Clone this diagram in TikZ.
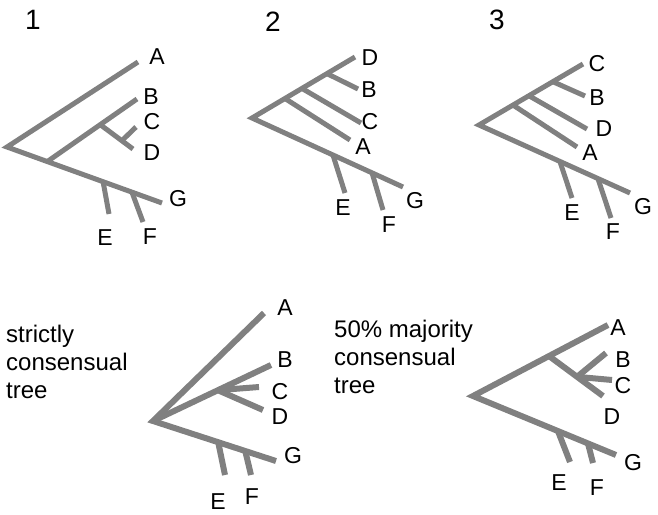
\documentclass[tikz,border=0pt]{standalone}
\usepackage{fontspec}
\setmainfont{Liberation Sans}
\usetikzlibrary{calc}
\definecolor{branch}{RGB}{128,128,128}
\tikzset{
  br/.style={draw=branch, line width=5pt},
  brb/.style={draw=branch, line width=6pt},
  leaf/.style={font=\fontsize{23}{26}\selectfont, inner sep=0pt, anchor=center},
  ttl/.style={font=\fontsize{28}{30}\selectfont, inner sep=0pt, anchor=center},
  caption/.style={font=\fontsize{24}{28}\selectfont, inner sep=0pt, anchor=north west, align=left}
}
\begin{document}
\begin{tikzpicture}[x=1pt,y=-1pt]
\useasboundingbox (0,0) rectangle (658,514);
% titles
\node[ttl] (t1) at (33,20) {1};
\node[ttl] (t2) at (273,22) {2};
\node[ttl] (t3) at (497,20) {3};
% ---------- tree 1
\coordinate (r1) at (7,147);
\coordinate (a1) at (138,62);
\coordinate (g1) at (162,203);
\coordinate (b1) at (137,99);
\coordinate (d1) at (133,149);
\coordinate (c1) at (136,127);
\coordinate (e1) at (109,214);
\coordinate (f1) at (143,222);
\coordinate (n1) at ($(r1)!0.26!(g1)$);
\coordinate (n2) at ($(n1)!0.59!(b1)$);
\coordinate (n3) at ($(n2)!0.66!(d1)$);
\coordinate (ne1) at ($(r1)!0.62!(g1)$);
\coordinate (nf1) at ($(r1)!0.806!(g1)$);
\draw[br] (a1) -- (r1) -- (g1);
\draw[br] (n1) -- (b1);
\draw[br] (n2) -- (d1);
\draw[br] (n3) -- (c1);
\draw[br] (ne1) -- (e1);
\draw[br] (nf1) -- (f1);
\node[leaf] (A1) at (157,57) {A};
\node[leaf] (B1) at (151,97) {B};
\node[leaf] (C1) at (152,122) {C};
\node[leaf] (D1) at (152,153) {D};
\node[leaf] (G1) at (178,199) {G};
\node[leaf] (E1) at (105,238) {E};
\node[leaf] (F1) at (150,237) {F};
% ---------- tree 2
\coordinate (r2) at (252,118);
\coordinate (d2) at (355,57);
\coordinate (g2) at (403,187);
\coordinate (a2) at (350,140);
\coordinate (c2) at (361,123);
\coordinate (b2) at (358,89);
\coordinate (e2) at (345,193);
\coordinate (f2) at (383,210);
\coordinate (na2) at ($(r2)!0.32!(d2)$);
\coordinate (nc2) at ($(r2)!0.485!(d2)$);
\coordinate (nb2) at ($(r2)!0.728!(d2)$);
\coordinate (ne2) at ($(r2)!0.536!(g2)$);
\coordinate (nf2) at ($(r2)!0.795!(g2)$);
\draw[br] (d2) -- (r2) -- (g2);
\draw[br] (na2) -- (a2);
\draw[br] (nc2) -- (c2);
\draw[br] (nb2) -- (b2);
\draw[br] (ne2) -- (e2);
\draw[br] (nf2) -- (f2);
\node[leaf] (D2) at (370,58) {D};
\node[leaf] (B2) at (369,90) {B};
\node[leaf] (C2) at (370,122) {C};
\node[leaf] (A2) at (363,147) {A};
\node[leaf] (G2) at (415,201) {G};
\node[leaf] (E2) at (343,208) {E};
\node[leaf] (F2) at (389,225) {F};
% ---------- tree 3
\coordinate (r3) at (479,125);
\coordinate (c3) at (583,64);
\coordinate (g3) at (630,193);
\coordinate (a3) at (577,147);
\coordinate (d3) at (587,129);
\coordinate (b3) at (585,96);
\coordinate (e3) at (572,198);
\coordinate (f3) at (611,218);
\coordinate (na3) at ($(r3)!0.327!(c3)$);
\coordinate (nd3) at ($(r3)!0.48!(c3)$);
\coordinate (nb3) at ($(r3)!0.71!(c3)$);
\coordinate (ne3) at ($(r3)!0.536!(g3)$);
\coordinate (nf3) at ($(r3)!0.788!(g3)$);
\draw[br] (c3) -- (r3) -- (g3);
\draw[br] (na3) -- (a3);
\draw[br] (nd3) -- (d3);
\draw[br] (nb3) -- (b3);
\draw[br] (ne3) -- (e3);
\draw[br] (nf3) -- (f3);
\node[leaf] (C3) at (597,64) {C};
\node[leaf] (B3) at (597,98) {B};
\node[leaf] (D3) at (604,129) {D};
\node[leaf] (A3) at (590,153) {A};
\node[leaf] (G3) at (643,207) {G};
\node[leaf] (E3) at (572,213) {E};
\node[leaf] (F3) at (613,232) {F};
% ---------- strict consensus
\node[caption] (cap1) at (6,325) {strictly\\consensual\\tree};
\coordinate (r4) at (153,421);
\coordinate (a4) at (264,313);
\coordinate (b4) at (271,365);
\coordinate (g4) at (276,461);
\coordinate (c4) at (259,387);
\coordinate (d4) at (263,410);
\coordinate (e4) at (225,475);
\coordinate (f4) at (251,475);
\coordinate (n4) at ($(r4)!0.55!(b4)$);
\coordinate (ne4) at ($(r4)!0.53!(g4)$);
\coordinate (nf4) at ($(r4)!0.75!(g4)$);
\draw[brb] (a4) -- (r4) -- (g4);
\draw[brb] (r4) -- (b4);
\draw[brb] (n4) -- (c4);
\draw[brb] (n4) -- (d4);
\draw[brb] (ne4) -- (e4);
\draw[brb] (nf4) -- (f4);
\node[leaf] (A4) at (285,308) {A};
\node[leaf] (B4) at (285,360) {B};
\node[leaf] (C4) at (280,392) {C};
\node[leaf] (D4) at (280,417) {D};
\node[leaf] (G4) at (293,456) {G};
\node[leaf] (E4) at (218,502) {E};
\node[leaf] (F4) at (252,497) {F};
% ---------- 50% majority consensus
\node[caption] (cap2) at (334,320) {50\% majority\\consensual\\tree};
\coordinate (r5) at (473,396);
\coordinate (a5) at (608,325);
\coordinate (g5) at (616,455);
\coordinate (d5) at (603,396);
\coordinate (b5) at (606,353);
\coordinate (c5) at (612,380);
\coordinate (e5) at (570,462);
\coordinate (f5) at (593,463);
\coordinate (n5) at ($(r5)!0.563!(a5)$);
\coordinate (m5) at ($(n5)!0.52!(d5)$);
\coordinate (ne5) at ($(r5)!0.594!(g5)$);
\coordinate (nf5) at ($(r5)!0.804!(g5)$);
\draw[brb] (a5) -- (r5) -- (g5);
\draw[brb] (n5) -- (d5);
\draw[brb] (m5) -- (b5);
\draw[brb] (m5) -- (c5);
\draw[brb] (ne5) -- (e5);
\draw[brb] (nf5) -- (f5);
\node[leaf] (A5) at (618,328) {A};
\node[leaf] (B5) at (623,360) {B};
\node[leaf] (C5) at (623,386) {C};
\node[leaf] (D5) at (612,417) {D};
\node[leaf] (G5) at (633,463) {G};
\node[leaf] (E5) at (559,483) {E};
\node[leaf] (F5) at (597,488) {F};
\end{tikzpicture}
\end{document}
